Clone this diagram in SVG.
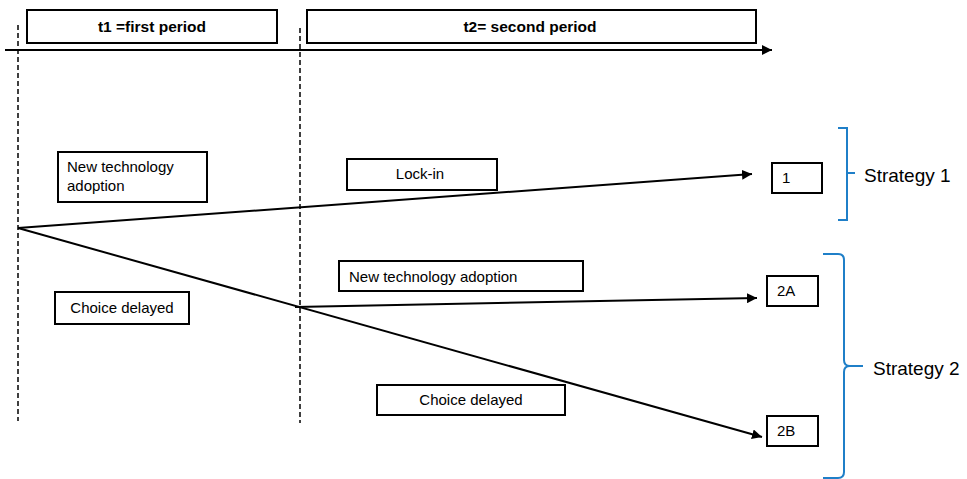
<svg xmlns="http://www.w3.org/2000/svg" width="967" height="479" viewBox="0 0 967 479">
<style>
.box{fill:#fff;stroke:#000;stroke-width:2}
.t{font-family:"Liberation Sans",Arial,sans-serif;font-size:15px;fill:#000}
.h{font-family:"Liberation Sans",Arial,sans-serif;font-size:15.5px;font-weight:bold;fill:#000}
.s{font-family:"Liberation Sans",Arial,sans-serif;font-size:19px;fill:#000}
.dash{stroke:#000;stroke-width:1.5;stroke-dasharray:5,3;fill:none}
.ln{stroke:#000;stroke-width:2;fill:none}
.br{stroke:#1f7fc8;stroke-width:2;fill:none}
</style>
<defs>
<marker id="ah" viewBox="0 0 10 10" refX="10" refY="5" markerWidth="5" markerHeight="5" orient="auto" markerUnits="strokeWidth">
<path d="M0,0 L10,5 L0,10 z" fill="#000"/>
</marker>
</defs>
<rect width="967" height="479" fill="#fff"/>
<g id="axes">
<line class="dash" x1="18" y1="25" x2="18" y2="421"/>
<line class="dash" x1="300" y1="28" x2="300" y2="423"/>
<line class="ln" x1="5" y1="50" x2="772" y2="50" marker-end="url(#ah)"/>
</g>
<g id="period1"><rect class="box" x="27" y="10" width="250" height="33"/><text class="h" x="152" y="32" text-anchor="middle">t1 =first period</text></g>
<g id="period2"><rect class="box" x="307" y="10" width="449" height="33"/><text class="h" x="530" y="32" text-anchor="middle">t2= second period</text></g>
<g id="connectors">
<line class="ln" x1="18" y1="228" x2="752" y2="174" marker-end="url(#ah)"/>
<line class="ln" x1="18" y1="228" x2="762" y2="437" marker-end="url(#ah)"/>
<line class="ln" x1="295" y1="307" x2="757" y2="298" marker-end="url(#ah)"/>
</g>
<g id="lbl-nta1"><rect class="box" x="58" y="152" width="149" height="50"/><text class="t" x="67" y="172">New technology</text><text class="t" x="67" y="191">adoption</text></g>
<g id="lbl-cd1"><rect class="box" x="55" y="292" width="134" height="32"/><text class="t" x="122" y="313" text-anchor="middle">Choice delayed</text></g>
<g id="lbl-lock"><rect class="box" x="347" y="159" width="150" height="31"/><text class="t" x="420" y="179" text-anchor="middle">Lock-in</text></g>
<g id="lbl-nta2"><rect class="box" x="339" y="261" width="244" height="30"/><text class="t" x="349" y="282">New technology adoption</text></g>
<g id="lbl-cd2"><rect class="box" x="377" y="385" width="188" height="30"/><text class="t" x="471" y="405" text-anchor="middle">Choice delayed</text></g>
<g id="node1"><rect class="box" x="772" y="163" width="50" height="30"/><text class="t" x="782" y="183">1</text></g>
<g id="node2A"><rect class="box" x="767" y="276" width="51" height="30"/><text class="t" x="777" y="296">2A</text></g>
<g id="node2B"><rect class="box" x="767" y="416" width="51" height="30"/><text class="t" x="777" y="436">2B</text></g>
<g id="strategy1">
<path class="br" d="M838,128 L847,128 L847,220 L838,220 M847,173 L855,173"/>
<text class="s" x="864" y="182">Strategy 1</text>
</g>
<g id="strategy2">
<path class="br" d="M823,254 L838,254 Q844,254 844,260 L844,360 Q844,366 850,366 L863,366 M850,366 Q844,366 844,372 L844,472 Q844,478 838,478 L823,478"/>
<text class="s" x="873" y="375">Strategy 2</text>
</g>
</svg>
